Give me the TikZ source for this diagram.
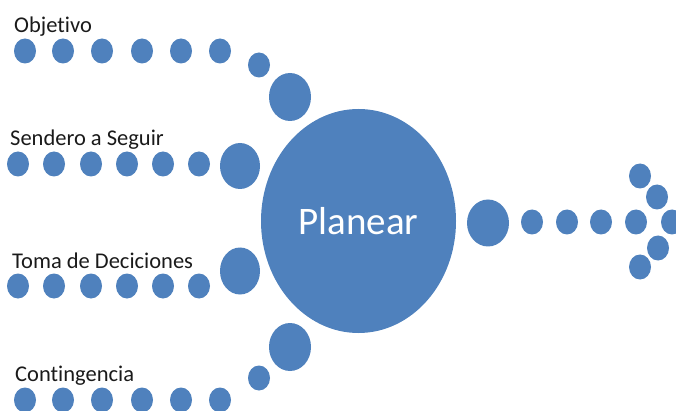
\documentclass[tikz,border=0pt]{standalone}
\usepackage{fontspec}
\setmainfont[Ligatures=NoCommon]{Carlito}
\usepackage{tikz}
\usetikzlibrary{shapes.geometric}
\definecolor{dotblue}{HTML}{4F81BD}
\definecolor{labeltext}{HTML}{1A1A1A}

\begin{document}
\begin{tikzpicture}[x=1pt,y=-1pt,
  lbl/.style={anchor=base west,inner sep=0pt,text=labeltext,font=\fontsize{22.5}{27}\selectfont}]
\useasboundingbox (0,0) rectangle (676,411);
\clip (0,0) rectangle (676,411);
\node[ellipse,fill=dotblue,minimum width=195pt,minimum height=224pt,inner sep=0pt,
  text=white,font=\fontsize{39}{46}\selectfont] (planear) at (358.5,221) {Planear};
\node[lbl] (objetivo) at (14,33) {Objetivo};
\node[lbl] (sendero) at (10,145.5) {Sendero a Seguir};
\node[lbl] (toma) at (12,268) {Toma de Deciciones};
\node[lbl] (contingencia) at (15,381.5) {Contingencia};
% rows of dots on the left
\foreach \x in {25,63,102,142,181,220} {
  \fill[dotblue] (\x,51) ellipse [x radius=11pt, y radius=12.5pt];
  \fill[dotblue] (\x,400) ellipse [x radius=11pt, y radius=12.5pt];
}
\foreach \x in {18,54,91,127,163,199} {
  \fill[dotblue] (\x,164) ellipse [x radius=11pt, y radius=12.5pt];
  \fill[dotblue] (\x,286) ellipse [x radius=11pt, y radius=12.5pt];
}
\fill[dotblue] (259,65) ellipse [x radius=11pt, y radius=12.5pt];
\fill[dotblue] (290,97) ellipse [x radius=21pt, y radius=24pt];
\fill[dotblue] (240,166) ellipse [x radius=20pt, y radius=23pt];
\fill[dotblue] (240,271) ellipse [x radius=20pt, y radius=23.5pt];
\fill[dotblue] (290,347) ellipse [x radius=21pt, y radius=24pt];
\fill[dotblue] (259,378) ellipse [x radius=11pt, y radius=12.5pt];
% arrow on the right
\fill[dotblue] (488,223) ellipse [x radius=21pt, y radius=23.5pt];
\foreach \p in {(532,222),(567,222),(601,222),(636,222),(672,222),
                (640,176),(657,197),(658,248),(640,267)}
  \fill[dotblue] \p ellipse [x radius=11pt, y radius=12.5pt];
\end{tikzpicture}
\end{document}
